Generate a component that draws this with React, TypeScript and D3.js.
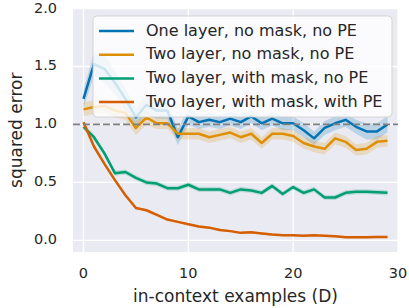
import * as d3 from "d3";

const W = 409;
const H = 308;
const M = { left: 73, right: 11, top: 8.5, bottom: 56 };

// mean squared error per number of in-context examples D = 0..29
const oneLayer = [1.22, 1.52, 1.48, 1.36, 1.22, 1.06, 1.17, 1.12, 1.12, 0.89, 1.07, 1.02, 1.04, 1.02, 1.05, 1.02, 1.07, 1.01, 1.05, 1.01, 1.01, 0.95, 0.88, 0.97, 1.01, 1.04, 0.98, 0.94, 0.94, 1.0];
const twoNoMask = [1.13, 1.15, 1.16, 1.12, 1.1, 0.97, 1.06, 1.01, 1.01, 0.92, 0.92, 0.92, 0.89, 0.91, 0.93, 0.89, 0.92, 0.84, 0.92, 0.92, 0.9, 0.84, 0.81, 0.79, 0.88, 0.85, 0.78, 0.79, 0.85, 0.86];
const twoMask = [0.98, 0.89, 0.75, 0.58, 0.59, 0.54, 0.5, 0.49, 0.45, 0.45, 0.48, 0.44, 0.44, 0.44, 0.41, 0.44, 0.43, 0.41, 0.47, 0.4, 0.46, 0.41, 0.44, 0.37, 0.37, 0.41, 0.42, 0.42, 0.415, 0.41];
const twoMaskPE = [1.02, 0.81, 0.66, 0.52, 0.39, 0.28, 0.26, 0.22, 0.18, 0.16, 0.14, 0.12, 0.11, 0.09, 0.08, 0.065, 0.07, 0.06, 0.05, 0.045, 0.045, 0.04, 0.045, 0.04, 0.035, 0.028, 0.028, 0.028, 0.03, 0.03];

// half-width of the confidence band (one layer varies, others roughly constant)
const oneLayerErr = [0.08, 0.1, 0.12, 0.1, 0.09, 0.08, 0.08, 0.07, 0.07, 0.07, 0.07, 0.06, 0.06, 0.06, 0.06, 0.06, 0.06, 0.06, 0.06, 0.06, 0.06, 0.06, 0.06, 0.06, 0.06, 0.06, 0.06, 0.07, 0.07, 0.07];
const twoNoMaskErr = [0.06, 0.06, 0.06, 0.06, 0.06, 0.06, 0.06, 0.05, 0.05, 0.05, 0.05, 0.05, 0.05, 0.05, 0.05, 0.05, 0.05, 0.05, 0.05, 0.05, 0.05, 0.05, 0.05, 0.05, 0.05, 0.05, 0.05, 0.05, 0.05, 0.05];
const twoMaskErr = [0.025, 0.025, 0.025, 0.022, 0.022, 0.022, 0.022, 0.022, 0.022, 0.022, 0.022, 0.022, 0.022, 0.022, 0.022, 0.022, 0.022, 0.022, 0.022, 0.022, 0.022, 0.022, 0.022, 0.022, 0.022, 0.022, 0.022, 0.022, 0.022, 0.022];
const twoMaskPEErr = [0.015, 0.015, 0.012, 0.012, 0.012, 0.01, 0.01, 0.01, 0.01, 0.01, 0.01, 0.01, 0.01, 0.01, 0.01, 0.01, 0.01, 0.01, 0.01, 0.01, 0.01, 0.01, 0.01, 0.01, 0.01, 0.01, 0.01, 0.01, 0.01, 0.01];

const labels = [
  "One layer, no mask, no PE",
  "Two layer, no mask, no PE",
  "Two layer, with mask, no PE",
  "Two layer, with mask, with PE",
];
const colors = ["#0173b2", "#de8f05", "#029e73", "#d55e00"];
const xTicks = [0, 10, 20, 30];
const yTicks = [0, 0.5, 1, 1.5, 2];

const FONT = "DejaVu Sans, sans-serif";

export default function App() {
  const x = d3.scaleLinear().domain([-1, 30]).range([M.left, W - M.right]);
  const y = d3.scaleLinear().domain([-0.1, 2]).range([H - M.bottom, M.top]);

  const series = [oneLayer, twoNoMask, twoMask, twoMaskPE];
  const errs = [oneLayerErr, twoNoMaskErr, twoMaskErr, twoMaskPEErr];

  const line = d3
    .line<number>()
    .x((_, i) => x(i))
    .y((d) => y(d));

  const band = (err: number[]) =>
    d3
      .area<number>()
      .x((_, i) => x(i))
      .y0((d, i) => y(d - err[i]))
      .y1((d, i) => y(d + err[i]));

  const legX = 93;
  const legY = 16;
  const rowH = 23.7;

  return (
    <svg
      width={W}
      height={H}
      style={{ position: "absolute", left: 0, top: 0, fontFamily: FONT }}
    >
      <rect x={0} y={0} width={W} height={H} fill="white" />
      <rect
        x={M.left}
        y={M.top}
        width={W - M.left - M.right}
        height={H - M.top - M.bottom}
        fill="#eaeaf2"
      />
      {xTicks.map((t) => (
        <line
          key={"gx" + t}
          x1={x(t)}
          x2={x(t)}
          y1={M.top}
          y2={H - M.bottom}
          stroke="white"
          strokeWidth={1.3}
        />
      ))}
      {yTicks.map((t) => (
        <line
          key={"gy" + t}
          x1={M.left}
          x2={W - M.right}
          y1={y(t)}
          y2={y(t)}
          stroke="white"
          strokeWidth={1.3}
        />
      ))}

      {series.map((s, k) => (
        <path
          key={"b" + k}
          d={band(errs[k])(s) || ""}
          fill={colors[k]}
          fillOpacity={0.2}
        />
      ))}
      {series.map((s, k) => (
        <path
          key={"l" + k}
          d={line(s) || ""}
          fill="none"
          stroke={colors[k]}
          strokeWidth={2.5}
          strokeLinejoin="round"
        />
      ))}

      <line
        x1={M.left}
        x2={W - M.right}
        y1={y(1)}
        y2={y(1)}
        stroke="#808080"
        strokeWidth={1.8}
        strokeDasharray="7,3"
      />

      {xTicks.map((t) => (
        <text
          key={"tx" + t}
          x={x(t)}
          y={274}
          textAnchor="middle"
          dominantBaseline="middle"
          fontSize={14.5}
          fill="#262626"
        >
          {t}
        </text>
      ))}
      {yTicks.map((t) => (
        <text
          key={"ty" + t}
          x={57}
          y={y(t)}
          textAnchor="end"
          dominantBaseline="middle"
          fontSize={14.5}
          fill="#262626"
        >
          {t.toFixed(1)}
        </text>
      ))}
      <text
        x={x(14.5)}
        y={297}
        textAnchor="middle"
        dominantBaseline="middle"
        fontSize={17}
        fill="#262626"
      >
        in-context examples (D)
      </text>
      <text
        transform={`translate(17,${(M.top + H - M.bottom) / 2}) rotate(-90)`}
        textAnchor="middle"
        dominantBaseline="middle"
        fontSize={17}
        fill="#262626"
      >
        squared error
      </text>

      <rect
        x={legX}
        y={legY}
        width={299}
        height={101}
        rx={4}
        fill="white"
        fillOpacity={0.8}
        stroke="#cccccc"
        strokeOpacity={0.8}
      />
      {labels.map((l, k) => (
        <g key={"leg" + k}>
          <line
            x1={99}
            x2={134}
            y1={legY + 15 + k * rowH}
            y2={legY + 15 + k * rowH}
            stroke={colors[k]}
            strokeWidth={2.5}
          />
          <text
            x={146}
            y={legY + 15 + k * rowH}
            dominantBaseline="middle"
            fontSize={16}
            fill="#262626"
          >
            {l}
          </text>
        </g>
      ))}
    </svg>
  );
}
